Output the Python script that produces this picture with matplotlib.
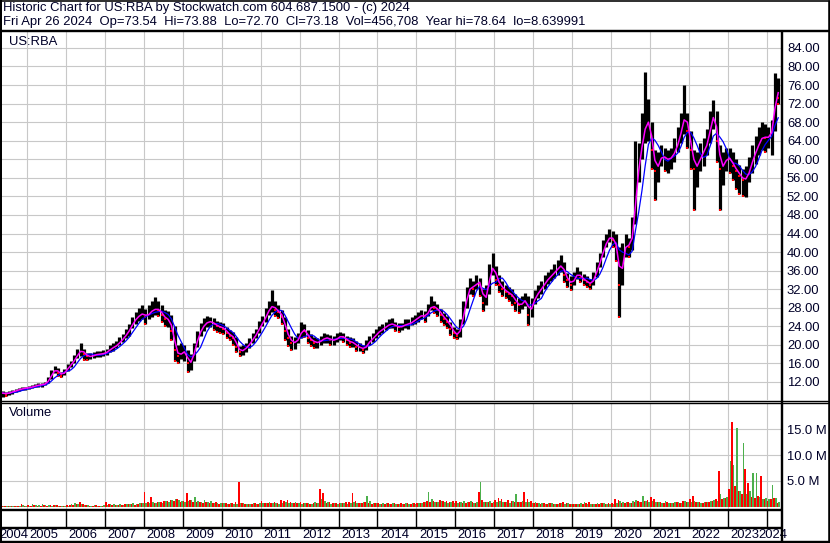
import matplotlib
matplotlib.use('Agg')
import matplotlib.pyplot as plt
from matplotlib.lines import Line2D
from matplotlib.ticker import FuncFormatter
import numpy as np
import pandas as pd

# Monthly bars, May 2004 .. Apr 2024
months = pd.date_range('2004-05-01', '2024-04-01', freq='MS')

close = [
    9.6, 9.4, 9.8, 9.9, 10.2, 10.4, 10.6, 10.7,                       # 2004
    10.8, 11.0, 11.2, 11.4, 11.4, 11.7, 12.5, 14.0, 14.8, 14.0, 13.5, 14.3,
    15.2, 16.0, 17.0, 18.2, 19.0, 18.0, 17.5, 17.5, 17.8, 18.0, 18.0, 18.2,
    18.5, 19.2, 19.5, 20.0, 20.8, 21.5, 22.5, 23.5, 25.0, 25.8, 26.5, 26.8,
    26.0, 27.0, 27.5, 27.8, 27.5, 26.5, 25.5, 25.5, 23.0, 19.0, 17.5, 18.5,
    18.5, 16.0, 16.5, 19.5, 22.0, 23.5, 24.5, 25.0, 25.0, 24.5, 24.0, 23.8,
    23.5, 22.5, 22.0, 21.5, 19.5, 18.5, 19.0, 19.5, 20.5, 21.5, 22.5, 24.0,
    25.0, 26.5, 28.0, 28.5, 27.5, 27.0, 26.0, 23.0, 21.5, 20.5, 20.5, 21.5,
    23.5, 23.0, 21.5, 21.0, 20.5, 20.5, 21.0, 21.5, 21.5, 21.0, 21.0, 21.5,
    22.0, 21.5, 21.0, 20.5, 20.5, 19.5, 19.5, 19.0, 20.0, 21.0, 21.5, 22.5,
    23.0, 23.5, 24.0, 24.5, 24.5, 24.0, 23.8, 24.0, 24.5, 24.5, 25.0, 25.5,
    26.0, 26.5, 26.0, 27.5, 28.5, 28.0, 27.5, 26.5, 25.5, 25.0, 23.5, 22.5,
    22.0, 24.0, 28.0, 31.0, 33.0, 32.0, 34.0, 33.0, 29.0, 31.5, 36.0, 37.0,
    34.0, 33.0, 32.0, 31.5, 31.0, 30.5, 29.0, 28.5, 29.0, 30.0, 26.5, 29.0,
    30.5, 31.5, 32.5, 33.5, 34.5, 35.0, 36.0, 36.5, 37.5, 35.0, 34.0, 33.0,
    34.5, 35.5, 34.5, 34.0, 33.5, 33.0, 34.5, 36.5, 38.5, 41.0, 42.5, 43.5,
    42.5, 41.0, 33.0, 40.0, 42.0, 41.0, 45.0, 55.0, 60.0, 65.0, 68.0, 68.0,
    62.0, 57.5, 59.5, 61.0, 60.0, 60.0, 60.5, 62.0, 64.0, 67.0, 70.0, 66.0,
    62.0, 58.0, 59.0, 61.0, 62.0, 64.0, 68.0, 70.0, 64.0, 58.0, 59.0, 60.5,
    60.0, 58.5, 57.5, 56.5, 55.5, 56.0, 58.0, 60.5, 62.0, 64.0, 65.0, 64.5,
    65.0, 66.5, 75.5, 73.2,                                           # 2024
]
high = [
    10.0, 9.9, 10.1, 10.2, 10.5, 10.7, 10.9, 11.0,
    11.2, 11.4, 11.6, 11.8, 11.8, 12.1, 13.0, 14.6, 15.4, 15.0, 14.2, 14.9,
    15.8, 16.6, 17.8, 19.2, 20.3, 19.2, 18.3, 18.2, 18.4, 18.6, 18.7, 18.9,
    19.2, 20.0, 20.5, 20.8, 21.6, 22.4, 23.5, 24.6, 26.0, 27.0, 28.0, 28.5,
    27.8, 28.5, 29.5, 30.3, 29.5, 28.5, 27.5, 27.2, 26.5, 24.0, 20.0, 20.5,
    20.0, 19.0, 18.0, 20.5, 23.0, 24.8, 25.8, 26.2, 26.0, 25.8, 25.2, 25.0,
    24.8, 23.8, 23.2, 22.8, 21.8, 19.8, 20.0, 20.5, 21.5, 22.5, 23.5, 25.2,
    26.2, 28.0, 29.5, 31.8, 29.5, 28.5, 27.5, 26.0, 23.5, 22.0, 21.8, 22.5,
    25.0, 24.5, 23.2, 22.3, 21.8, 21.5, 22.0, 22.5, 22.4, 22.2, 22.0, 22.5,
    22.8, 22.6, 22.0, 21.6, 21.4, 20.8, 20.4, 20.0, 21.0, 22.0, 22.5, 23.5,
    24.0, 24.5, 25.0, 25.5, 25.8, 25.0, 24.8, 24.8, 25.5, 25.5, 26.0, 26.5,
    27.0, 27.6, 27.2, 28.8, 30.5, 29.5, 28.8, 27.8, 26.8, 26.2, 25.0, 23.8,
    23.5, 25.5, 29.5, 32.5, 34.5, 33.8, 35.0, 34.5, 32.0, 33.0, 37.5, 39.8,
    37.0, 35.0, 33.8, 33.0, 32.5, 32.0, 31.0, 30.0, 30.5, 31.2, 30.5, 30.2,
    31.8, 32.8, 33.8, 35.0, 35.8, 36.3, 37.5, 38.2, 39.4, 37.8, 35.5, 34.8,
    35.6, 36.8, 36.0, 35.2, 34.8, 34.3, 35.6, 37.8, 39.8, 42.5, 44.0, 45.0,
    44.5, 44.0, 41.0, 42.0, 44.0, 43.0, 47.5, 64.0, 63.5, 70.0, 78.8, 73.0,
    68.0, 62.0, 61.5, 63.0, 62.5, 62.0, 62.5, 64.5, 67.0, 70.0, 76.0, 70.0,
    66.0, 62.0, 61.5, 63.5, 64.5, 66.5, 70.5, 72.8, 70.5, 63.0, 61.5, 62.5,
    62.5, 61.5, 60.0, 58.8, 58.0, 58.5, 60.5, 63.0, 65.0, 67.0, 68.0, 67.5,
    67.0, 68.5, 78.6, 77.5,
]
low = [
    8.7, 9.0, 9.3, 9.5, 9.8, 10.0, 10.2, 10.3,
    10.4, 10.6, 10.9, 11.0, 11.0, 11.3, 11.8, 12.6, 14.0, 13.3, 13.0, 13.6,
    14.3, 15.2, 16.0, 17.2, 17.6, 16.8, 16.8, 16.9, 17.1, 17.3, 17.4, 17.5,
    17.9, 18.4, 18.6, 19.3, 20.0, 20.7, 21.4, 22.0, 23.6, 24.6, 25.2, 25.6,
    24.5, 25.5, 26.0, 26.5, 26.2, 25.0, 24.0, 23.8, 21.0, 16.5, 16.0, 17.0,
    16.5, 14.2, 14.5, 16.5, 19.5, 22.0, 23.0, 23.8, 23.8, 23.2, 22.8, 22.5,
    22.3, 21.5, 21.0, 20.0, 18.5, 17.5, 17.8, 18.5, 19.3, 20.5, 21.5, 22.5,
    24.0, 25.0, 26.5, 27.0, 26.2, 25.8, 24.5, 21.0, 19.8, 19.0, 19.2, 20.3,
    21.5, 21.8, 20.5, 19.8, 19.3, 19.3, 20.0, 20.5, 20.5, 20.0, 20.0, 20.6,
    21.0, 20.6, 20.0, 19.5, 19.5, 18.6, 18.7, 18.3, 19.0, 20.0, 20.6, 21.5,
    22.2, 22.6, 23.2, 23.6, 23.6, 23.0, 22.8, 23.2, 23.6, 23.5, 24.2, 24.6,
    25.0, 25.5, 25.0, 26.2, 27.5, 26.8, 26.3, 25.0, 24.2, 23.6, 22.2, 21.5,
    21.3, 21.8, 24.5, 28.0, 31.0, 30.5, 32.0, 30.5, 27.2, 28.5, 31.0, 35.0,
    33.0, 31.5, 30.5, 30.0, 29.5, 28.5, 27.2, 26.8, 27.8, 28.3, 24.3, 26.0,
    28.8, 30.0, 31.0, 32.0, 33.2, 33.8, 34.5, 35.0, 35.8, 33.5, 32.5, 31.8,
    32.8, 34.2, 33.5, 33.0, 32.5, 32.0, 33.0, 34.6, 36.8, 39.0, 41.0, 42.2,
    41.0, 38.0, 26.0, 33.0, 39.0, 39.0, 40.5, 46.0, 55.0, 60.0, 63.5, 64.0,
    58.0, 51.2, 55.0, 58.5, 57.5, 57.0, 58.0, 59.5, 61.5, 63.5, 65.5, 62.5,
    58.0, 49.0, 54.0, 57.5, 58.5, 61.0, 63.5, 66.5, 59.5, 49.0, 54.5, 57.5,
    57.0, 55.5, 53.5, 52.5, 52.0, 51.9, 55.0, 57.0, 59.0, 61.0, 62.0, 61.5,
    62.5, 61.0, 66.0, 72.0,
]
# volume in millions, split into up (green) and down (red) parts
vol_up = [
    0.1, 0.1, 0.2, 0.1, 0.2, 0.1, 0.3, 0.2,
    0.1, 0.5, 0.4, 0.3, 0.5, 0.3, 0.4, 0.2, 0.3, 0.2, 0.2, 0.1,
    0.2, 0.6, 0.7, 0.5, 0.5, 0.4, 0.3, 0.2, 0.3, 0.2, 0.2, 0.3,
    0.3, 0.6, 0.5, 0.4, 0.5, 0.4, 0.6, 0.5, 0.7, 0.6, 0.8, 0.7,
    0.8, 0.7, 1.0, 0.8, 1.0, 0.8, 1.2, 1.0, 1.3, 1.6, 1.3, 1.2,
    1.0, 1.2, 1.4, 1.9, 1.2, 1.0, 1.3, 0.9, 1.1, 0.8, 0.7, 0.8,
    0.8, 0.6, 0.7, 0.5, 0.6, 0.7, 0.8, 0.5, 0.6, 0.7, 0.5, 0.7,
    0.7, 0.8, 0.9, 0.7, 0.8, 0.6, 0.7, 1.0, 0.8, 0.7, 0.9, 0.8,
    0.6, 0.8, 0.7, 0.5, 0.9, 0.7, 1.5, 1.2, 1.0, 0.6, 0.7, 0.6,
    0.7, 0.8, 0.6, 0.7, 0.9, 0.8, 0.7, 1.0, 2.2, 1.2, 0.8, 0.7,
    0.6, 0.7, 0.8, 0.6, 0.7, 0.5, 0.6, 0.5, 0.8, 0.6, 0.7, 0.6,
    0.7, 0.8, 0.9, 2.9, 1.5, 1.0, 0.9, 1.2, 1.0, 0.8, 0.9, 0.8,
    0.8, 1.0, 1.2, 0.9, 1.1, 0.8, 1.0, 4.9, 1.0, 0.9, 1.2, 1.0,
    1.0, 1.2, 0.9, 1.0, 0.8, 1.1, 2.5, 1.0, 1.2, 0.9, 1.0, 0.8,
    0.9, 0.7, 0.8, 0.6, 0.7, 0.8, 0.6, 0.5, 0.7, 0.6, 0.8, 0.6,
    0.5, 0.6, 0.7, 1.0, 0.6, 0.5, 0.6, 0.7, 0.8, 0.7, 0.5, 0.6,
    0.6, 0.8, 1.2, 1.0, 0.9, 0.8, 1.2, 1.4, 1.0, 2.1, 1.2, 1.0,
    1.2, 0.9, 1.0, 0.8, 1.1, 0.7, 0.8, 1.0, 0.9, 0.8, 1.1, 0.9,
    1.0, 1.2, 1.0, 0.8, 1.0, 0.9, 1.1, 1.4, 1.2, 2.5, 1.8, 2.0,
    8.9, 8.0, 15.2, 3.0, 12.3, 2.5, 3.0, 6.6, 6.5, 2.0, 1.5, 1.8,
    1.5, 4.3, 1.8, 1.0,
]
vol_down = [
    0.2, 0.1, 0.1, 0.2, 0.1, 0.2, 0.6, 0.2,
    0.3, 0.2, 0.3, 0.2, 0.2, 0.3, 0.2, 0.3, 0.4, 0.3, 0.2, 0.2,
    0.3, 0.3, 0.4, 0.5, 0.9, 0.5, 0.3, 0.2, 0.2, 0.3, 0.2, 0.2,
    0.9, 0.5, 0.4, 0.3, 0.4, 0.3, 0.5, 0.6, 0.5, 0.4, 0.6, 0.7,
    2.8, 0.9, 1.9, 0.8, 1.0, 0.9, 1.1, 1.2, 1.4, 1.2, 1.5, 1.0,
    1.2, 2.6, 1.3, 1.0, 0.9, 1.0, 0.8, 0.9, 0.7, 0.8, 0.9, 0.6,
    0.7, 0.8, 0.6, 0.7, 1.0, 4.9, 0.7, 0.6, 0.5, 0.6, 0.7, 0.6,
    1.2, 0.8, 0.7, 0.8, 0.9, 0.8, 1.4, 1.1, 1.4, 0.9, 0.8, 0.7,
    0.9, 0.7, 0.8, 0.6, 0.7, 0.8, 3.5, 2.6, 0.8, 1.0, 0.7, 0.8,
    0.8, 0.7, 0.9, 1.0, 2.6, 1.2, 0.8, 0.7, 0.9, 0.7, 0.6, 0.7,
    0.7, 0.6, 0.5, 0.7, 0.6, 0.8, 0.6, 0.7, 0.5, 0.7, 0.6, 0.8,
    0.8, 0.7, 1.0, 1.2, 1.0, 1.1, 0.9, 1.3, 1.1, 1.2, 1.0, 1.2,
    1.2, 0.9, 0.8, 0.7, 0.9, 1.0, 0.8, 2.9, 1.3, 1.0, 0.9, 0.8,
    1.3, 1.8, 1.6, 1.0, 1.4, 1.2, 1.0, 0.9, 1.0, 2.8, 1.5, 1.1,
    0.8, 0.7, 0.6, 0.8, 0.6, 0.7, 0.5, 0.6, 0.8, 1.0, 0.7, 0.6,
    0.6, 0.5, 0.6, 0.5, 0.7, 1.0, 0.6, 0.5, 0.6, 0.8, 0.6, 0.7,
    0.7, 1.5, 1.4, 0.8, 0.7, 0.9, 0.8, 1.0, 1.2, 0.9, 1.1, 1.3,
    2.0, 1.6, 1.0, 0.9, 0.8, 1.0, 0.7, 0.8, 0.9, 0.8, 1.2, 1.0,
    1.5, 2.1, 1.0, 0.9, 0.8, 1.0, 0.9, 1.2, 1.5, 6.9, 1.6, 1.8,
    3.5, 16.4, 4.0, 3.0, 2.5, 7.3, 4.7, 2.0, 1.8, 2.2, 5.9, 1.5,
    1.2, 1.5, 1.8, 0.8,
]
price_ticks = list(range(12, 85, 4))
vol_ticks = [5, 10, 15]
years = list(range(2004, 2025))

header1 = "Historic Chart for US:RBA by Stockwatch.com 604.687.1500 - (c) 2024"
header2 = ("Fri Apr 26 2024  Op=73.54  Hi=73.88  Lo=72.70  Cl=73.18  "
           "Vol=456,708  Year hi=78.64  lo=8.639991")

# ---------------------------------------------------------------------------
W, H = 830, 543
plt.rcParams['font.family'] = ['Liberation Sans', 'DejaVu Sans']
FS = 9.4
TXT = '#000028'

close = np.array(close)
high = np.array(high)
low = np.array(low)
t = months.year + (months.month - 0.5) / 12.0
ma_fast = pd.Series(close).rolling(2, min_periods=1).mean()
ma_slow = pd.Series(close).rolling(5, min_periods=1).mean()
down = np.r_[False, close[1:] < close[:-1]]

fig = plt.figure(figsize=(W / 100, H / 100), dpi=100)
fig.patch.set_facecolor('white')


def box(x0, y0, x1, y1):
    return [x0 / W, 1 - y1 / H, (x1 - x0) / W, (y1 - y0) / H]


def fline(x0, y0, x1, y1, lw):
    fig.add_artist(Line2D([x0 / W, x1 / W], [1 - y0 / H, 1 - y1 / H],
                          color='black', lw=lw * 0.72, zorder=10,
                          solid_capstyle='butt'))


XLIM = (2004.358, 2024.363)

# price panel
ax = fig.add_axes(box(2, 32, 781, 400))
ax.set_xlim(*XLIM)
ax.set_ylim(8.12, 87.43)
ax.vlines(t, low, high, color='black', lw=2.3, zorder=3)
ax.plot(t[down], close[down], ls='none', marker='s', ms=1.6, mew=0,
        color='red', zorder=4)
ax.plot(t[down], low[down], ls='none', marker='s', ms=1.6, mew=0,
        color='red', zorder=4)
ax.plot(t, ma_slow, color='#0000ff', lw=0.9, zorder=5)
ax.plot(t, ma_fast, color='#ff00ff', lw=1.1, zorder=6)
ax.set_xticks(years[1:])
ax.set_yticks(price_ticks)
ax.yaxis.set_major_formatter(FuncFormatter(lambda v, p: f'{v:.2f}'))
ax.grid(True, color='#c8c8c8', lw=0.8)
ax.set_axisbelow(True)
ax.tick_params(axis='x', length=0, labelbottom=False)
ax.tick_params(axis='y', length=0, left=False, labelleft=False,
               labelright=True, pad=4.3, labelsize=FS, labelcolor=TXT)
for s in ax.spines.values():
    s.set_visible(False)

# volume panel
axv = fig.add_axes(box(2, 404, 781, 508.5))
axv.set_xlim(*XLIM)
axv.set_ylim(-0.29, 19.81)
axv.bar(t + 1 / 48, vol_up, width=1 / 24, color='#4cb04c', zorder=3)
axv.bar(t - 1 / 48, vol_down, width=1 / 24, color='#ff0000', zorder=3)
axv.set_xticks(years[1:])
axv.set_yticks(vol_ticks)
axv.yaxis.set_major_formatter(FuncFormatter(lambda v, p: f'{v:.1f} M'))
axv.grid(True, color='#c8c8c8', lw=0.8)
axv.set_axisbelow(True)
axv.tick_params(axis='x', length=0, labelbottom=False)
axv.tick_params(axis='y', length=0, left=False, labelleft=False,
                labelright=True, pad=4.3, labelsize=FS, labelcolor=TXT)
for s in axv.spines.values():
    s.set_visible(False)

# year tick row
axt = fig.add_axes(box(2, 510, 781, 528))
axt.set_xlim(*XLIM)
axt.set_ylim(0, 1)
axt.vlines(years[1:], 0, 1, color='black', lw=1.0)
axt.axis('off')

# frame
fline(0, 0.8, 830, 0.8, 1.6)
fline(0, 30.8, 830, 30.8, 2.4)
fline(1, 0, 1, 543, 2.0)
fline(828.7, 0, 828.7, 543, 2.6)
fline(782.2, 31, 782.2, 543, 2.4)
fline(0, 401.2, 830, 401.2, 1.4)
fline(0, 403.4, 830, 403.4, 1.4)
fline(0, 509.6, 782, 509.6, 2.4)
fline(0, 527.8, 782, 527.8, 2.4)
fline(0, 541.8, 830, 541.8, 2.4)

# texts
fig.text(3 / W, 1 - 7.5 / H, header1, fontsize=FS, va='center', color=TXT)
fig.text(3 / W, 1 - 22 / H, header2, fontsize=FS, va='center', color=TXT)
fig.text(9 / W, 1 - 42 / H, 'US:RBA', fontsize=FS, va='center', color=TXT)
fig.text(9 / W, 1 - 413 / H, 'Volume', fontsize=FS, va='center', color=TXT)

px_per_year = 779 / (XLIM[1] - XLIM[0])
for yr in years:
    if yr == 2004:
        fig.text(-1 / W, 1 - 535 / H, str(yr), fontsize=FS, va='center',
                 ha='left', color=TXT)
    elif yr == 2024:
        fig.text(787 / W, 1 - 535 / H, str(yr), fontsize=FS, va='center',
                 ha='right', color=TXT)
    else:
        xb = 2 + (yr - XLIM[0]) * px_per_year
        fig.text((xb + 2.5) / W, 1 - 535 / H, str(yr), fontsize=FS,
                 va='center', ha='left', color=TXT)

fig.savefig('out.png', dpi=100, facecolor='white')
